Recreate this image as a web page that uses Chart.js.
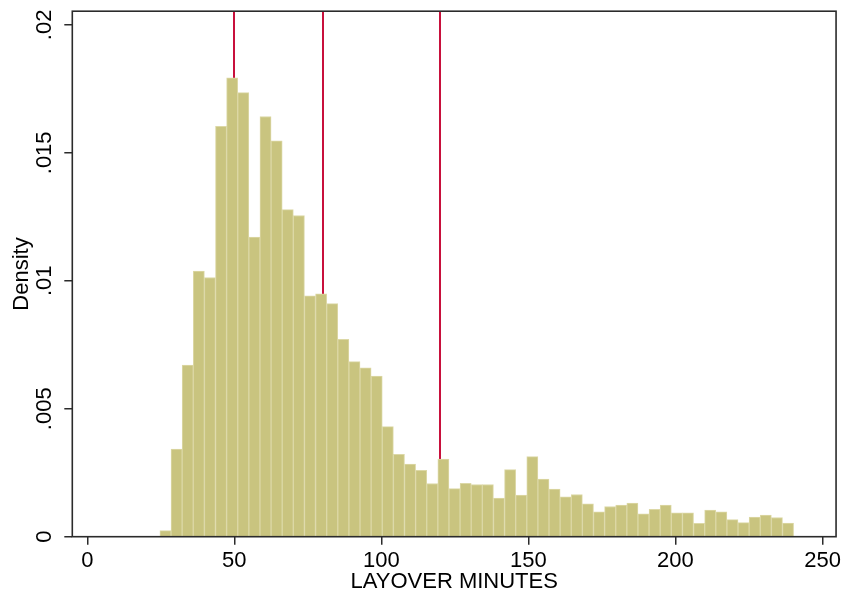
<!DOCTYPE html>
<html>
<head>
<meta charset="utf-8">
<script src="https://cdn.jsdelivr.net/npm/chart.js@4.4.1/dist/chart.umd.min.js"></script>
<style>
  html, body { margin: 0; padding: 0; background: #fff; }
</style>
</head>
<body>
<canvas id="chart" width="844" height="597"></canvas>
<script>
// histogram bins (minutes) and bar heights (density)
const binStart = 24.7;
const binWidth = 3.78;
const densities = [
  0.00024, 0.00342, 0.00671, 0.01038, 0.01013, 0.01604, 0.01793, 0.01735, 0.01171, 0.01642,
  0.01547, 0.01278, 0.01255, 0.00941, 0.00949, 0.00911, 0.00771, 0.00684, 0.00660, 0.00628,
  0.00430, 0.00322, 0.00284, 0.00259, 0.00208, 0.00303, 0.00188, 0.00209, 0.00204, 0.00204,
  0.00151, 0.00262, 0.00163, 0.00313, 0.00225, 0.00186, 0.00156, 0.00165, 0.00128, 0.00097,
  0.00118, 0.00124, 0.00131, 0.00089, 0.00107, 0.00124, 0.00093, 0.00093, 0.00052, 0.00104,
  0.00097, 0.00067, 0.00055, 0.00077, 0.00084, 0.00075, 0.00053
];
const xTicks = [0, 50, 100, 150, 200, 250];
const yTicks = [0, 0.005, 0.01, 0.015, 0.02];
const yTickLabels = ["0", ".005", ".01", ".015", ".02"];
const markerLines = [50, 80, 120];

const FONT = "'Liberation Sans', Arial, sans-serif";
const INK = "#2b2b2b";

const bars = densities.map((d, i) => ({ x: binStart + binWidth * (i + 0.5), y: d }));

const markerPlugin = {
  id: "markers",
  beforeDatasetsDraw(chart) {
    const { ctx, chartArea, scales } = chart;
    ctx.save();
    ctx.strokeStyle = "#C8103C";
    ctx.lineWidth = 2;
    markerLines.forEach((v) => {
      const x = Math.round(scales.x.getPixelForValue(v));
      ctx.beginPath();
      ctx.moveTo(x, chartArea.top);
      ctx.lineTo(x, chartArea.bottom);
      ctx.stroke();
    });
    ctx.restore();
  }
};

const framePlugin = {
  id: "frame",
  afterDraw(chart) {
    const { ctx, chartArea } = chart;
    ctx.save();
    ctx.strokeStyle = INK;
    ctx.lineWidth = 1.6;
    ctx.strokeRect(chartArea.left, chartArea.top, chartArea.right - chartArea.left, chartArea.bottom - chartArea.top);
    ctx.restore();
  }
};

new Chart(document.getElementById("chart"), {
  type: "bar",
  data: {
    datasets: [{
      data: bars,
      backgroundColor: "#C9C47F",
      borderColor: "#DCD8A6",
      borderWidth: 1,
      barPercentage: 1,
      categoryPercentage: 1,
      grouped: false
    }]
  },
  options: {
    responsive: false,
    animation: false,
    layout: { padding: { top: 10, right: 6.7, left: 0, bottom: 0 } },
    plugins: { legend: { display: false }, tooltip: { enabled: false } },
    scales: {
      x: {
        type: "linear",
        offset: false,
        min: -5.09,
        max: 254.6,
        afterBuildTicks: (scale) => { scale.ticks = xTicks.map((v) => ({ value: v })); },
        afterFit: (scale) => { scale.height = 60.3; },
        ticks: {
          color: "#000",
          font: { family: FONT, size: 22 },
          padding: 3,
          maxRotation: 0,
          autoSkip: false,
          callback: (v) => String(v)
        },
        grid: { offset: false, drawOnChartArea: false, drawTicks: true, tickLength: 8, color: INK, lineWidth: 1.5 },
        border: { display: false },
        title: {
          display: true,
          text: "LAYOVER MINUTES",
          color: "#000",
          font: { family: FONT, size: 22 },
          padding: { top: 2, bottom: 2 }
        }
      },
      y: {
        min: 0,
        max: 0.020534,
        afterBuildTicks: (scale) => { scale.ticks = yTicks.map((v) => ({ value: v })); },
        afterFit: (scale) => { scale.width = 72.3; },
        ticks: {
          color: "#000",
          font: { family: FONT, size: 22 },
          minRotation: 90,
          maxRotation: 90,
          crossAlign: "center",
          padding: -2,
          autoSkip: false,
          callback: (v) => yTickLabels[yTicks.indexOf(v)] ?? ""
        },
        grid: { drawOnChartArea: false, drawTicks: true, tickLength: 8, color: INK, lineWidth: 1.5 },
        border: { display: false },
        title: {
          display: true,
          text: "Density",
          color: "#000",
          font: { family: FONT, size: 22 },
          padding: { top: 9, bottom: 9 }
        }
      }
    }
  },
  plugins: [markerPlugin, framePlugin]
});
</script>
</body>
</html>
